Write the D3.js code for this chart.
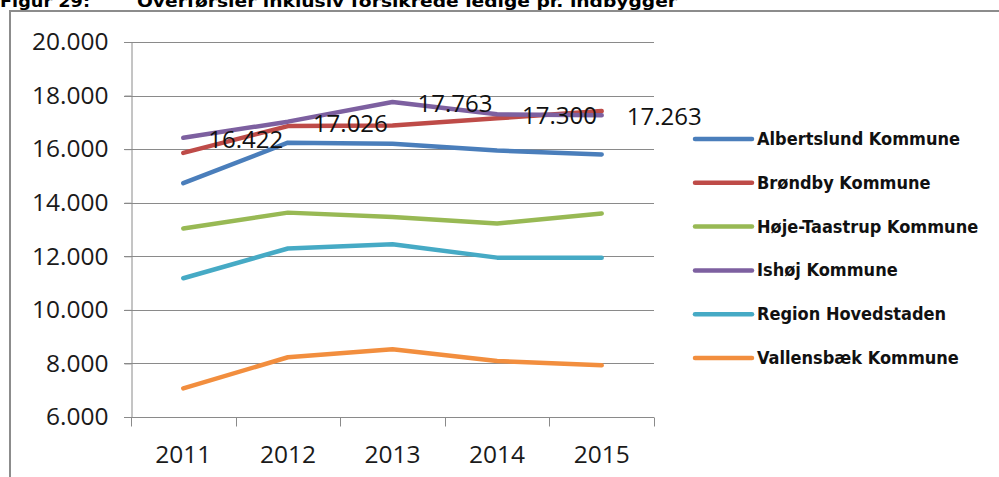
<!DOCTYPE html>
<html>
<head>
<meta charset="utf-8">
<script src="https://cdn.jsdelivr.net/npm/d3@7"></script>
<style>
  body { margin: 0; background: #fff; }
  svg { display: block; }
</style>
</head>
<body>
<div id="chart"></div>
<script>
const years = ['2011', '2012', '2013', '2014', '2015'];
const seriesNames = ['Albertslund Kommune', 'Brøndby Kommune', 'Høje-Taastrup Kommune',
  'Ishøj Kommune', 'Region Hovedstaden', 'Vallensbæk Kommune'];
const seriesColors = ['#4A7EBB', '#BE4B48', '#98B954', '#7D60A0', '#46AAC5', '#F28E3E'];

const albertslund = [14730, 16240, 16200, 15950, 15800];
const brondby = [15860, 16860, 16880, 17150, 17420];
const hojeTaastrup = [13040, 13630, 13470, 13220, 13600];
const ishoj = [16422, 17026, 17763, 17300, 17263];
const regionH = [11180, 12290, 12450, 11950, 11950];
const vallensbaek = [7070, 8230, 8530, 8090, 7930];
const allValues = [albertslund, brondby, hojeTaastrup, ishoj, regionH, vallensbaek];

const yTicks = [6000, 8000, 10000, 12000, 14000, 16000, 18000, 20000];
const labelledSeries = 3; // Ishøj carries the data labels

const width = 999,
  height = 477;

const svg = d3.select('#chart').append('svg')
  .attr('width', width)
  .attr('height', height);

// title, cut off by the top of the page like in the scan
const titleFont = '"DejaVu Sans", Verdana, sans-serif';
svg.append('text')
  .attr('x', 0)
  .attr('y', 7)
  .style('font-family', titleFont)
  .style('font-weight', 'bold')
  .style('font-size', '16px')
  .attr('fill', '#000')
  .attr('textLength', 90)
  .attr('lengthAdjust', 'spacingAndGlyphs')
  .text('Figur 29:');
svg.append('text')
  .attr('x', 137)
  .attr('y', 7)
  .style('font-family', titleFont)
  .style('font-weight', 'bold')
  .style('font-size', '16px')
  .attr('fill', '#000')
  .attr('textLength', 540)
  .attr('lengthAdjust', 'spacingAndGlyphs')
  .text('Overførsler inklusiv forsikrede ledige pr. indbygger');

// frame
svg.append('path')
  .attr('d', `M10,${height + 2}V11H${width + 2}`)
  .attr('fill', 'none')
  .attr('stroke', '#8c8c8c')
  .attr('stroke-width', 2);

const plot = { left: 131, right: 654, top: 42, bottom: 417 };

const x = d3.scaleBand()
  .domain(years)
  .range([plot.left, plot.right]);

const y = d3.scaleLinear()
  .domain([6000, 20000])
  .range([plot.bottom, plot.top]);

const fmt = v => d3.format(',')(v).replace(/,/g, '.');
const numFont = '"Open Sans", "Noto Sans", sans-serif';

// gridlines
svg.append('g')
  .selectAll('line')
  .data(yTicks)
  .enter()
  .append('line')
  .attr('x1', plot.left - 7)
  .attr('x2', plot.right)
  .attr('y1', d => Math.round(y(d)) + 0.5)
  .attr('y2', d => Math.round(y(d)) + 0.5)
  .attr('stroke', '#8a8a8a')
  .attr('stroke-width', 1);

// y axis
const yAxis = svg.append('g')
  .attr('transform', `translate(${plot.left + 0.5},0)`)
  .call(d3.axisLeft(y).tickValues(yTicks).tickFormat(fmt).tickSize(7).tickPadding(16));
yAxis.select('.domain').attr('stroke', '#8a8a8a');
yAxis.selectAll('.tick line').attr('stroke', '#8a8a8a');
yAxis.selectAll('.tick text')
  .style('font-family', numFont)
  .style('font-size', '24.5px')
  .attr('fill', '#1a1a1a');

// x axis, ticks on band edges
const xAxis = svg.append('g')
  .attr('transform', `translate(0,${Math.round(plot.bottom) + 0.5})`);
xAxis.append('line')
  .attr('x1', plot.left)
  .attr('x2', plot.right)
  .attr('stroke', '#8a8a8a');
xAxis.selectAll('line.tk')
  .data(years.concat(['end']))
  .enter()
  .append('line')
  .attr('class', 'tk')
  .attr('x1', d => Math.round(d === 'end' ? plot.right : x(d)) + 0.5)
  .attr('x2', d => Math.round(d === 'end' ? plot.right : x(d)) + 0.5)
  .attr('y1', 0)
  .attr('y2', 9)
  .attr('stroke', '#8a8a8a');
xAxis.selectAll('text')
  .data(years)
  .enter()
  .append('text')
  .attr('x', d => x(d) + x.bandwidth() / 2)
  .attr('y', 45)
  .attr('text-anchor', 'middle')
  .style('font-family', numFont)
  .style('font-size', '24.5px')
  .attr('fill', '#1a1a1a')
  .text(d => d);

// lines
const line = d3.line()
  .x((d, i) => x(years[i]) + x.bandwidth() / 2)
  .y(d => y(d));

svg.append('g')
  .selectAll('path')
  .data(allValues)
  .enter()
  .append('path')
  .attr('d', line)
  .attr('fill', 'none')
  .attr('stroke', (d, i) => seriesColors[i])
  .attr('stroke-width', 4.5)
  .attr('stroke-linecap', 'round')
  .attr('stroke-linejoin', 'round');

// data labels for Ishøj
svg.append('g')
  .selectAll('text')
  .data(allValues[labelledSeries])
  .enter()
  .append('text')
  .attr('x', (d, i) => x(years[i]) + x.bandwidth() / 2 + 25)
  .attr('y', d => y(d) + 10)
  .style('font-family', numFont)
  .style('font-size', '24px')
  .attr('fill', '#111')
  .text(fmt);

// legend
const legend = svg.append('g')
  .selectAll('g')
  .data(seriesNames)
  .enter()
  .append('g')
  .attr('transform', (d, i) => `translate(695,${139 + i * 43.8})`);
legend.append('line')
  .attr('x1', 0)
  .attr('x2', 57)
  .attr('stroke', (d, i) => seriesColors[i])
  .attr('stroke-width', 4.5)
  .attr('stroke-linecap', 'round');
legend.append('text')
  .attr('x', 62)
  .attr('y', 6)
  .style('font-family', '"DejaVu Sans Condensed", "DejaVu Sans", sans-serif')
  .style('font-weight', 'bold')
  .style('font-size', '18px')
  .attr('fill', '#111')
  .text(d => d);
</script>
</body>
</html>
